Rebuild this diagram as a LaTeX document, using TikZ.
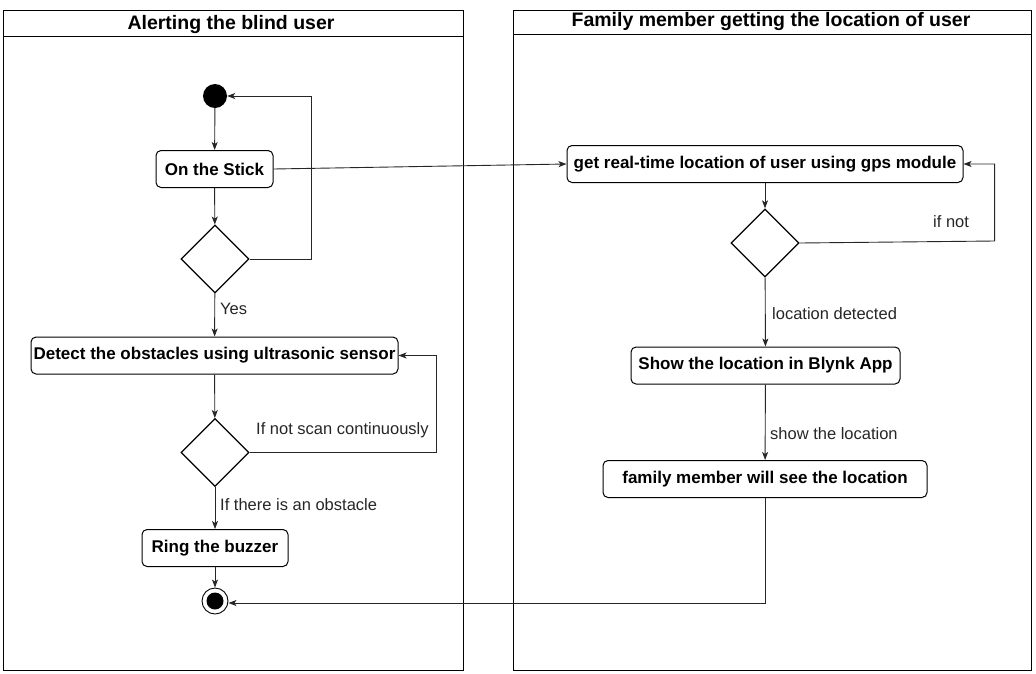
\documentclass[tikz,border=0pt]{standalone}
\usepackage{fontspec}
\setmainfont{Liberation Sans}
\usetikzlibrary{arrows.meta,shapes.geometric,calc}
\begin{document}
\begin{tikzpicture}[x=1pt,y=-1pt,
  act/.style={draw,rounded corners=5pt,line width=1pt,minimum height=37pt,inner xsep=1pt,font=\fontsize{17pt}{20pt}\selectfont\bfseries,anchor=center},
  dec/.style={draw,diamond,aspect=1,minimum size=68pt,inner sep=0pt,line width=1.3pt},
  arr/.style={draw=black!85,line width=0.9pt,-{Stealth[length=8pt,width=6pt,inset=2pt]}},
  lbl/.style={font=\fontsize{16.5pt}{19pt}\selectfont,text=black!85,anchor=west,inner sep=0pt},
  lane/.style={draw,line width=0.9pt},
  ttl/.style={font=\fontsize{19.5pt}{22pt}\selectfont\bfseries,inner sep=0pt}]
\useasboundingbox (0,0) rectangle (1036,673);
% lanes
\draw[lane] (3,10) rectangle (463,670);
\draw[lane] (3,36) -- (463,36);
\draw[lane] (513,10) rectangle (1031,670);
\draw[lane] (513,34) -- (1031,34);
\node[ttl] (t1) at (231,24) {Alerting the blind user};
\node[ttl] (t2) at (771,21) {Family member getting the location of user};
% left lane
\node[circle,fill=black,minimum size=24pt,inner sep=0pt] (start) at (215,96) {};
\node[act,minimum width=117pt] (stick) at (214.5,169) {On the Stick};
\node[dec] (d1) at (215,259) {};
\node[act,minimum width=367pt] (detect) at (214.5,355.5) {Detect the obstacles using ultrasonic sensor};
\node[dec] (d2) at (215,452.5) {};
\node[act,minimum width=146pt] (ring) at (215,548) {Ring the buzzer};
\node[circle,draw,line width=0.9pt,minimum size=26pt,inner sep=0pt] (end) at (215,601) {};
\fill (end.center) circle (8.5pt);
% right lane
\node[act,minimum width=396pt] (gps) at (765,164) {get real-time location of user using gps module};
\node[dec] (d3) at (765,243) {};
\node[act,minimum width=269pt] (show) at (765.5,365.5) {Show the location in Blynk App};
\node[act,minimum width=324pt] (fam) at (765,479) {family member will see the location};
% connectors
\draw[arr] (start) -- (stick);
\draw[arr] (stick) -- (d1);
\draw[arr] (d1.east) -- ++(62,0) |- (start.east);
\draw[arr] (d1) -- (detect);
\draw[arr] (detect) -- (d2);
\draw[arr] (d2.east) -- ++(187,0) |- (detect.east);
\draw[arr] (d2) -- (ring);
\draw[arr] (ring) -- (end);
\draw[arr] (stick.east) -- (gps.west);
\draw[arr] (gps) -- (d3);
\draw[arr] (d3.east) -- ++(195,-2) |- (gps.east);
\draw[arr] (d3) -- (show);
\draw[arr] (show) -- (fam);
\draw[arr] (fam.south) |- ($(end.east)+(0,2)$);
% labels
\node[lbl] (l1) at (220,309) {Yes};
\node[lbl] (l2) at (256,430) {If not scan continuously};
\node[lbl] (l3) at (220,505) {If there is an obstacle};
\node[lbl] (l4) at (933,222) {if not};
\node[lbl] (l5) at (772,314) {location detected};
\node[lbl] (l6) at (770,434) {show the location};
\end{tikzpicture}
\end{document}
